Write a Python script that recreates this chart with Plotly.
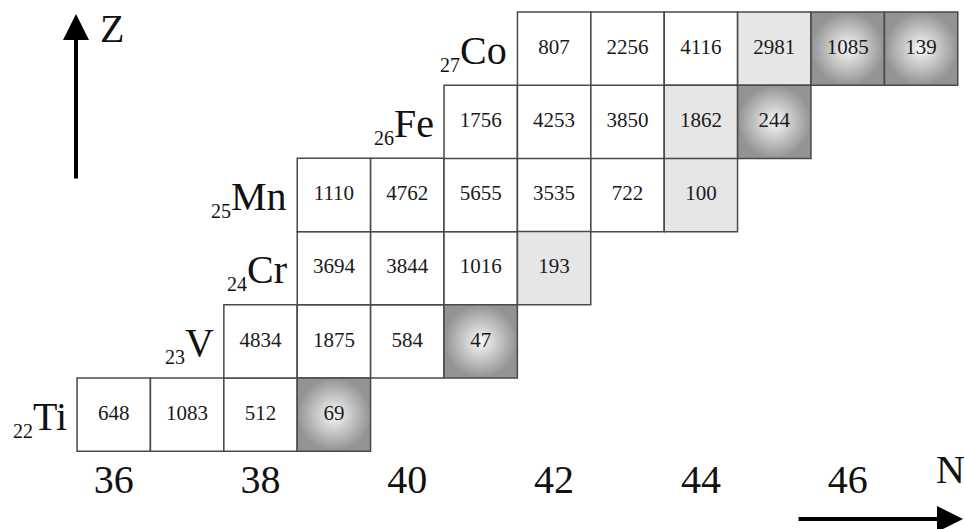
import plotly.graph_objects as go

# ---- data ----
elements = ["Ti", "V", "Cr", "Mn", "Fe", "Co"]
proton_numbers = [22, 23, 24, 25, 26, 27]
first_neutron = [36, 38, 39, 39, 41, 42]
row_values = [
    [648, 1083, 512, 69],
    [4834, 1875, 584, 47],
    [3694, 3844, 1016, 193],
    [1110, 4762, 5655, 3535, 722, 100],
    [1756, 4253, 3850, 1862, 244],
    [807, 2256, 4116, 2981, 1085, 139],
]
row_kinds = [
    ["w", "w", "w", "d"],
    ["w", "w", "w", "d"],
    ["w", "w", "w", "l"],
    ["w", "w", "w", "w", "w", "l"],
    ["w", "w", "w", "l", "d"],
    ["w", "w", "w", "l", "d", "d"],
]
n_tick_vals = [36, 38, 40, 42, 44, 46]
n_tick_text = ["36", "38", "40", "42", "44", "46"]

# ---- style ----
SERIF = "Liberation Serif, Times New Roman, serif"
CELL = 73.3
BORDER = "#4a4a4a"
fills = {"w": "#ffffff", "l": "#e6e6e6", "d": "#939393"}

# build cell lists
cells = {"w": ([], [], []), "l": ([], [], []), "d": ([], [], [])}
for z, n0, vals, kinds in zip(proton_numbers, first_neutron, row_values, row_kinds):
    for i, (v, k) in enumerate(zip(vals, kinds)):
        cells[k][0].append(n0 + i)
        cells[k][1].append(z)
        cells[k][2].append(str(v))

fig = go.Figure()
for k, (xs, ys, ts) in cells.items():
    marker = dict(symbol="square", size=CELL, color=fills[k],
                  line=dict(color=BORDER, width=1.5))
    if k == "d":
        marker["gradient"] = dict(type="radial", color="#f8f8f8")
    fig.add_trace(go.Scatter(
        x=xs, y=ys, mode="markers+text", text=ts,
        textposition="middle center",
        textfont=dict(family=SERIF, size=21, color="#1a1a1a"),
        marker=marker, hoverinfo="skip", showlegend=False, cliponaxis=False))

# N tick labels
fig.add_trace(go.Scatter(
    x=n_tick_vals, y=[21.07] * len(n_tick_vals), mode="text", text=n_tick_text,
    textposition="middle center",
    textfont=dict(family=SERIF, size=40, color="#111111"),
    hoverinfo="skip", showlegend=False, cliponaxis=False))

annotations = []
for el, z, n0 in zip(elements, proton_numbers, first_neutron):
    annotations.append(dict(
        x=n0 - 0.5, y=z, xref="x", yref="y", xanchor="right", yanchor="middle",
        xshift=-8, yshift=-3, showarrow=False,
        text=f"<sub><span style='font-size:20px'>{z}</span></sub>{el}",
        font=dict(family=SERIF, size=40, color="#111111")))

# axis letters
annotations.append(dict(x=112 / 965, y=1 - 29 / 529, xref="paper", yref="paper",
                        text="Z", showarrow=False, xanchor="center", yanchor="middle",
                        font=dict(family=SERIF, size=40, color="#111111")))
annotations.append(dict(x=950 / 965, y=1 - 469 / 529, xref="paper", yref="paper",
                        text="N", showarrow=False, xanchor="center", yanchor="middle",
                        font=dict(family=SERIF, size=40, color="#111111")))
# arrows
annotations.append(dict(x=76 / 965, y=1 - 14 / 529, xref="paper", yref="paper",
                        ax=0, ay=166, axref="pixel", ayref="pixel", text="",
                        showarrow=True, arrowhead=2, arrowwidth=4, arrowsize=1.3,
                        arrowcolor="#000000", standoff=0))
annotations.append(dict(x=963 / 965, y=1 - 519 / 529, xref="paper", yref="paper",
                        ax=-166, ay=0, axref="pixel", ayref="pixel", text="",
                        showarrow=True, arrowhead=2, arrowwidth=4, arrowsize=1.3,
                        arrowcolor="#000000", standoff=0))

fig.update_layout(
    width=965, height=529, margin=dict(l=0, r=0, t=0, b=0),
    paper_bgcolor="white", plot_bgcolor="white",
    xaxis=dict(range=[34.451, 47.598], visible=False, fixedrange=True),
    yaxis=dict(range=[20.437, 27.664], visible=False, fixedrange=True),
    annotations=annotations, showlegend=False)

fig.write_html("out.html", config={"displayModeBar": False},
               post_script="document.body.style.margin='0';document.body.style.overflow='hidden';")
